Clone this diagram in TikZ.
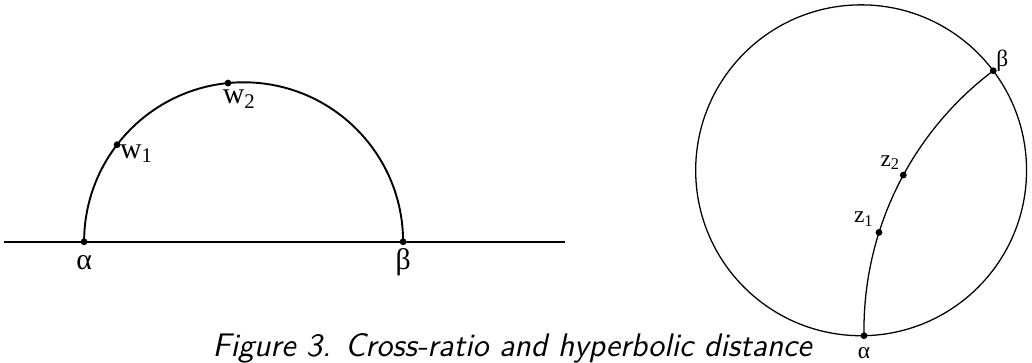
\documentclass[tikz,border=0pt]{standalone}
\usepackage{fontspec}
\setmainfont{Liberation Serif}
\usepackage{tikz}
\usetikzlibrary{positioning}

\begin{document}
\begin{tikzpicture}[
    ptdot/.style={circle, fill=black, inner sep=0pt, minimum size=3.2pt},
    biglbl/.style={font=\fontsize{14}{16}\selectfont, inner sep=1pt},
    smalllbl/.style={font=\fontsize{11}{13}\selectfont, inner sep=1pt}]
  \useasboundingbox (0,0) rectangle (17.03,5.99);

  % upper half-plane
  \coordinate (lineL) at (0.07,2.0);
  \coordinate (lineR) at (9.32,2.0);
  \coordinate (hc) at (4.02,2.0);
  \draw[line width=0.9pt] (lineL) -- (lineR);
  \node[ptdot] (a1) at (1.388,2.0) {};
  \node[ptdot] (b1) at (6.652,2.0) {};
  \node[ptdot] (w1) at ([shift={(142.5:2.632)}]hc) {};
  \node[ptdot] (w2) at ([shift={(95.6:2.632)}]hc) {};
  \draw[line width=0.9pt] (a1.center) arc[start angle=180, end angle=0, radius=2.632];
  \node[biglbl, below=13pt of a1.center, anchor=base] (la1) {α};
  \node[biglbl, below=13pt of b1.center, anchor=base] (lb1) {β};
  \node[biglbl, below right=-2.5pt and -1pt of w1] (lw1) {w\textsubscript{1}};
  \node[biglbl, below right=0.7pt and -4.9pt of w2] (lw2) {w\textsubscript{2}};

  % unit disk
  \begin{scope}[shift={(14.21,3.18)}, scale=2.73]
    \draw[line width=0.6pt] (0,0) circle[radius=1];
    \node[ptdot] (a2) at (-89:1) {};
    \node[ptdot] (b2) at (37:1) {};
    \node[ptdot] (z1) at (0.108,-0.3754) {};
    \node[ptdot] (z2) at (0.255,-0.029) {};
    \draw[line width=0.6pt] (a2.center) arc[start angle=181, end angle=127, radius=1.9626];
  \end{scope}
  \node[smalllbl, below=2.5pt of a2] (la2) {α};
  \node[smalllbl, above right=-3pt and -1pt of b2] (lb2) {β};
  \node[smalllbl, above left=0pt and -1pt of z2] (lz2) {z\textsubscript{2}};
  \node[smalllbl, above left=0.5pt and 0pt of z1] (lz1) {z\textsubscript{1}};

  \node[font=\sffamily\itshape\fontsize{15.3}{18}\selectfont, anchor=base] (cap) at (8.45,0.115)
    {Figure 3. Cross-ratio and hyperbolic distance};
\end{tikzpicture}
\end{document}
